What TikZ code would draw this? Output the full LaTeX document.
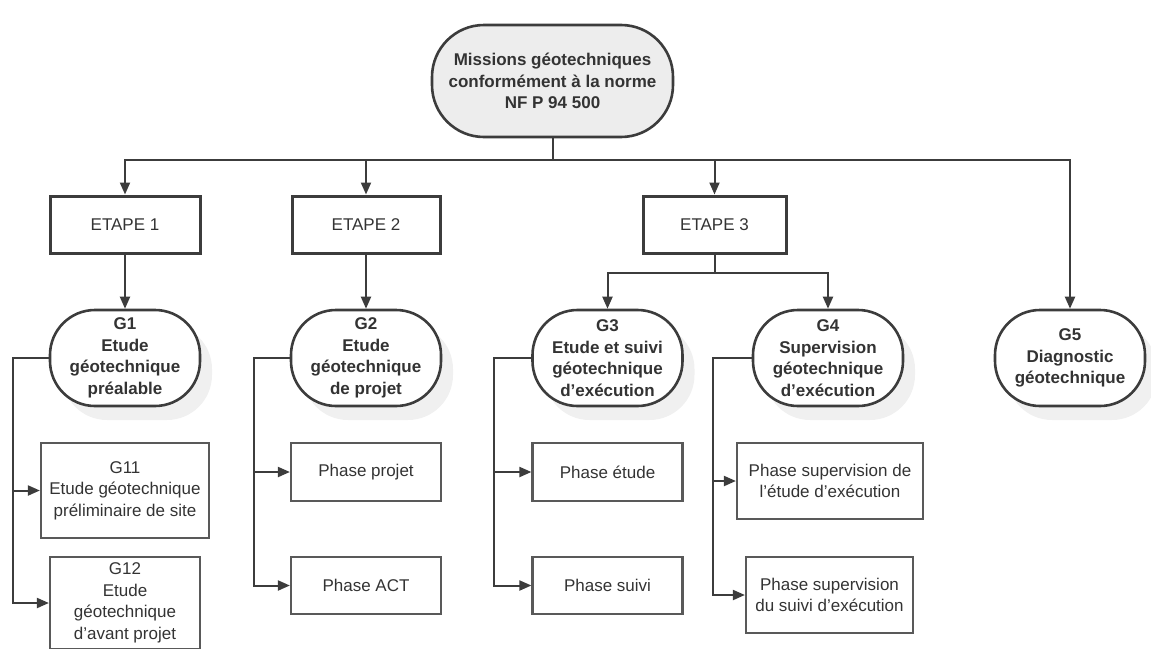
\documentclass[tikz,border=0pt]{standalone}
\usepackage{fontspec}
\setmainfont{Liberation Sans}
\usetikzlibrary{arrows.meta}
\usetikzlibrary{shadows}
\definecolor{ln}{HTML}{3C3C3C}
\definecolor{txt}{HTML}{333333}
\definecolor{topfill}{HTML}{EDEDED}

\begin{document}
\begin{tikzpicture}[x=1pt,y=-1pt,
  every node/.style={font=\fontsize{17}{21.5}\selectfont, text=txt, align=center, inner sep=0pt},
  arr/.style={draw=ln, line width=2pt, -{Triangle[length=12pt,width=10pt]}},
  etape/.style={draw=ln, line width=3pt, minimum width=148pt, minimum height=57pt},
  term/.style={draw=ln, line width=2.6pt, fill=white, rounded corners=45pt,
    minimum width=150pt, minimum height=96pt, font=\fontsize{17}{21.5}\selectfont\bfseries},
  mission/.style={term, drop shadow={opacity=0.12, shadow xshift=12pt, shadow yshift=-14pt}},
  phase/.style={draw=ln!85, line width=2.2pt, minimum width=150pt, minimum height=58pt},
]
  \useasboundingbox (0,0) rectangle (1151,648);

  % top
  \node[term, fill=topfill, minimum width=241pt, minimum height=112pt, rounded corners=52pt] (top) at (552.5,81)
    {Missions géotechniques\\conformément à la norme\\NF P 94 500};

  % etapes
  \node[etape, minimum width=150pt] (e1) at (125,224.5) {ETAPE 1};
  \node[etape] (e2) at (366,224.5) {ETAPE 2};
  \node[etape, minimum width=143pt] (e3) at (714.5,224.5) {ETAPE 3};

  % missions
  \node[mission] (g1) at (125,358) {G1\\Etude\\géotechnique\\préalable};
  \node[mission] (g2) at (366,358) {G2\\Etude\\géotechnique\\de projet};
  \node[mission] (g3) at (607.5,358) {G3\\Etude et suivi\\géotechnique\\d’exécution};
  \node[mission] (g4) at (828,358) {G4\\Supervision\\géotechnique\\d’exécution};
  \node[mission] (g5) at (1070,358) {G5\\Diagnostic\\géotechnique};

  % phases
  \node[phase, minimum width=168pt, minimum height=95pt] (g11) at (125,490.5)
    {G11\\Etude géotechnique\\préliminaire de site};
  \node[phase, minimum height=92pt] (g12) at (125,603) {G12\\Etude\\géotechnique\\d’avant projet};
  \node[phase] (pprojet) at (366,472) {Phase projet};
  \node[phase, minimum height=57pt] (pact) at (366,585.5) {Phase ACT};
  \node[phase] (petude) at (607.5,472) {Phase étude};
  \node[phase, minimum height=57pt] (psuivi) at (607.5,585.5) {Phase suivi};
  \node[phase, minimum width=186pt, minimum height=76pt] (psupet) at (830,481)
    {Phase supervision de\\l’étude d’exécution};
  \node[phase, minimum width=167pt, minimum height=76pt] (psupsu) at (829.5,595)
    {Phase supervision\\du suivi d’exécution};

  \coordinate (bus) at (0,160);
  \coordinate (s3) at (714.5,273);
  \coordinate (l1) at (13,358);
  \coordinate (l2) at (254,358);
  \coordinate (l3) at (494,358);
  \coordinate (l4) at (713,358);

  \draw[arr] (top.south) -- (top.south |- bus) -| (e1.north);
  \draw[arr] (top.south |- bus) -| (e2.north);
  \draw[arr] (top.south |- bus) -| (e3.north);
  \draw[arr] (top.south |- bus) -| (g5.north);

  \draw[arr] (e1) -- (g1);
  \draw[arr] (e2) -- (g2);
  \draw[arr] (e3.south) -- (s3) -| (g3.north);
  \draw[arr] (s3) -| (g4.north);

  \draw[arr] (g1.west) -- (l1) |- (g11.west);
  \draw[arr] (l1) |- (g12.west);
  \draw[arr] (g2.west) -- (l2) |- (pprojet.west);
  \draw[arr] (l2) |- (pact.west);
  \draw[arr] (g3.west) -- (l3) |- (petude.west);
  \draw[arr] (l3) |- (psuivi.west);
  \draw[arr] (g4.west) -- (l4) |- (psupet.west);
  \draw[arr] (l4) |- (psupsu.west);
\end{tikzpicture}
\end{document}
